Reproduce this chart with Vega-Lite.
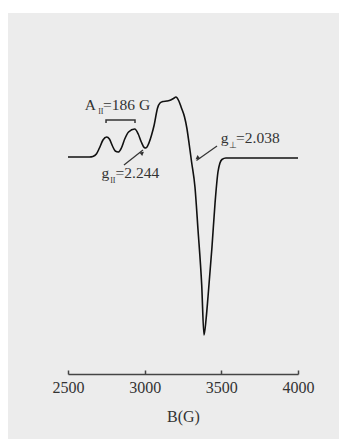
{
  "$schema": "https://vega.github.io/schema/vega-lite/v6.json",
  "autosize": {"type": "none"},
  "width": 230,
  "height": 354,
  "padding": {"left": 68, "top": 20, "right": 41, "bottom": 65},
  "background": "#ececec",
  "config": {"view": {"stroke": null}, "font": "Liberation Serif"},
  "datasets": {
    "panel": [{"name": "margin"}],
    "spectrum": [
      {"B": 2500, "I": 0}, {"B": 2600, "I": 0}, {"B": 2640, "I": 0}, {"B": 2662, "I": 0.5},
      {"B": 2685, "I": 3}, {"B": 2705, "I": 9}, {"B": 2728, "I": 17}, {"B": 2752, "I": 20},
      {"B": 2770, "I": 18}, {"B": 2790, "I": 11}, {"B": 2808, "I": 6}, {"B": 2828, "I": 5},
      {"B": 2848, "I": 9}, {"B": 2870, "I": 18}, {"B": 2895, "I": 25}, {"B": 2935, "I": 28},
      {"B": 2958, "I": 23}, {"B": 2978, "I": 15}, {"B": 2997, "I": 9.5}, {"B": 3008, "I": 9},
      {"B": 3022, "I": 12}, {"B": 3045, "I": 22}, {"B": 3062, "I": 32}, {"B": 3084, "I": 49},
      {"B": 3100, "I": 54}, {"B": 3120, "I": 55.5}, {"B": 3145, "I": 56}, {"B": 3170, "I": 57},
      {"B": 3188, "I": 58.5}, {"B": 3204, "I": 60}, {"B": 3223, "I": 56}, {"B": 3240, "I": 49},
      {"B": 3260, "I": 40}, {"B": 3275, "I": 29}, {"B": 3291, "I": 12}, {"B": 3306, "I": -5},
      {"B": 3328, "I": -30}, {"B": 3348, "I": -73}, {"B": 3372, "I": -128}, {"B": 3387, "I": -178},
      {"B": 3400, "I": -163}, {"B": 3413, "I": -140}, {"B": 3439, "I": -90}, {"B": 3459, "I": -46},
      {"B": 3478, "I": -15}, {"B": 3491, "I": -6}, {"B": 3504, "I": -2.5}, {"B": 3530, "I": -1},
      {"B": 3700, "I": -1}, {"B": 4000, "I": -1}
    ],
    "bracket": [
      {"B": 2748, "I": 34, "o": 1}, {"B": 2748, "I": 37, "o": 2},
      {"B": 2937, "I": 37, "o": 3}, {"B": 2937, "I": 34, "o": 4}
    ],
    "arrows": [
      {"name": "gpar", "B": 2865, "I": -8, "o": 1}, {"name": "gpar", "B": 2989, "I": 7, "o": 2},
      {"name": "gperp", "B": 3472, "I": 11, "o": 1}, {"name": "gperp", "B": 3338, "I": -3.5, "o": 2}
    ],
    "heads": [
      {"B": 2985, "I": 4, "angle": 52},
      {"B": 3343, "I": -1, "angle": 234}
    ],
    "annotations": [
      {"text": "A", "B": 2610, "I": 47, "size": 15.5},
      {"text": "II", "B": 2697, "I": 43, "size": 8},
      {"text": "=186 G", "B": 2729, "I": 47, "size": 15.5},
      {"text": "g", "B": 2719, "I": -21, "size": 15.5},
      {"text": "II", "B": 2775, "I": -26, "size": 8},
      {"text": "=2.244", "B": 2810, "I": -21, "size": 15.5},
      {"text": "g", "B": 3497, "I": 14, "size": 15.5},
      {"text": "⊥", "B": 3551, "I": 9, "size": 9},
      {"text": "=2.038", "B": 3596, "I": 14, "size": 15.5}
    ]
  },
  "layer": [
    {
      "data": {"name": "panel"},
      "mark": {"type": "rect", "color": "white", "clip": false},
      "encoding": {
        "x": {"datum": 1500, "type": "quantitative", "title": null},
        "x2": {"datum": 2109},
        "y": {"datum": 400, "type": "quantitative", "axis": null, "title": null},
        "y2": {"datum": -450}
      }
    },
    {
      "data": {"name": "panel"},
      "mark": {"type": "rect", "color": "white", "clip": false},
      "encoding": {
        "x": {"datum": 1500, "type": "quantitative", "title": null},
        "x2": {"datum": 5000},
        "y": {"datum": 400, "type": "quantitative", "axis": null, "title": null},
        "y2": {"datum": 144}
      }
    },
    {
      "data": {"name": "spectrum"},
      "mark": {"type": "line", "color": "#111111", "strokeWidth": 1.6, "interpolate": "monotone"},
      "encoding": {
        "x": {
          "field": "B", "type": "quantitative",
          "scale": {"domain": [2500, 4000], "nice": false, "zero": false},
          "axis": {
            "title": "B(G)", "titleFont": "Liberation Serif", "titleFontSize": 16, "titleFontWeight": "normal",
            "titleColor": "#333333", "titlePadding": 13, "zindex": 1,
            "values": [2500, 2750, 3000, 3250, 3500, 3750, 4000],
            "labelExpr": "datum.value % 500 == 0 ? format(datum.value, 'd') : ''",
            "labelFont": "Liberation Serif", "labelFontSize": 16, "labelColor": "#333333",
            "labelPadding": 9, "labelFlush": false, "labelOverlap": false,
            "tickSize": -4, "tickColor": "#444444", "tickWidth": 1.5,
            "domainColor": "#444444", "domainWidth": 1.5, "grid": false
          }
        },
        "y": {
          "field": "I", "type": "quantitative",
          "scale": {"domain": [-217, 137], "nice": false, "zero": false},
          "axis": null
        }
      }
    },
    {
      "data": {"name": "bracket"},
      "mark": {"type": "line", "color": "#333333", "strokeWidth": 1.5},
      "encoding": {
        "x": {"field": "B", "type": "quantitative"},
        "y": {"field": "I", "type": "quantitative"},
        "order": {"field": "o", "type": "quantitative"}
      }
    },
    {
      "data": {"name": "arrows"},
      "mark": {"type": "line", "color": "#333333", "strokeWidth": 1.2},
      "encoding": {
        "x": {"field": "B", "type": "quantitative"},
        "y": {"field": "I", "type": "quantitative"},
        "detail": {"field": "name", "type": "nominal"},
        "order": {"field": "o", "type": "quantitative"}
      }
    },
    {
      "data": {"name": "heads"},
      "mark": {"type": "point", "shape": "triangle-up", "filled": true, "color": "#333333", "size": 22, "opacity": 1},
      "encoding": {
        "x": {"field": "B", "type": "quantitative"},
        "y": {"field": "I", "type": "quantitative"},
        "angle": {"field": "angle", "type": "quantitative", "scale": null}
      }
    },
    {
      "data": {"name": "annotations"},
      "mark": {"type": "text", "align": "left", "baseline": "alphabetic", "font": "Liberation Serif", "color": "#333333"},
      "encoding": {
        "x": {"field": "B", "type": "quantitative"},
        "y": {"field": "I", "type": "quantitative"},
        "text": {"field": "text", "type": "nominal"},
        "size": {"field": "size", "type": "quantitative", "scale": null}
      }
    }
  ]
}
